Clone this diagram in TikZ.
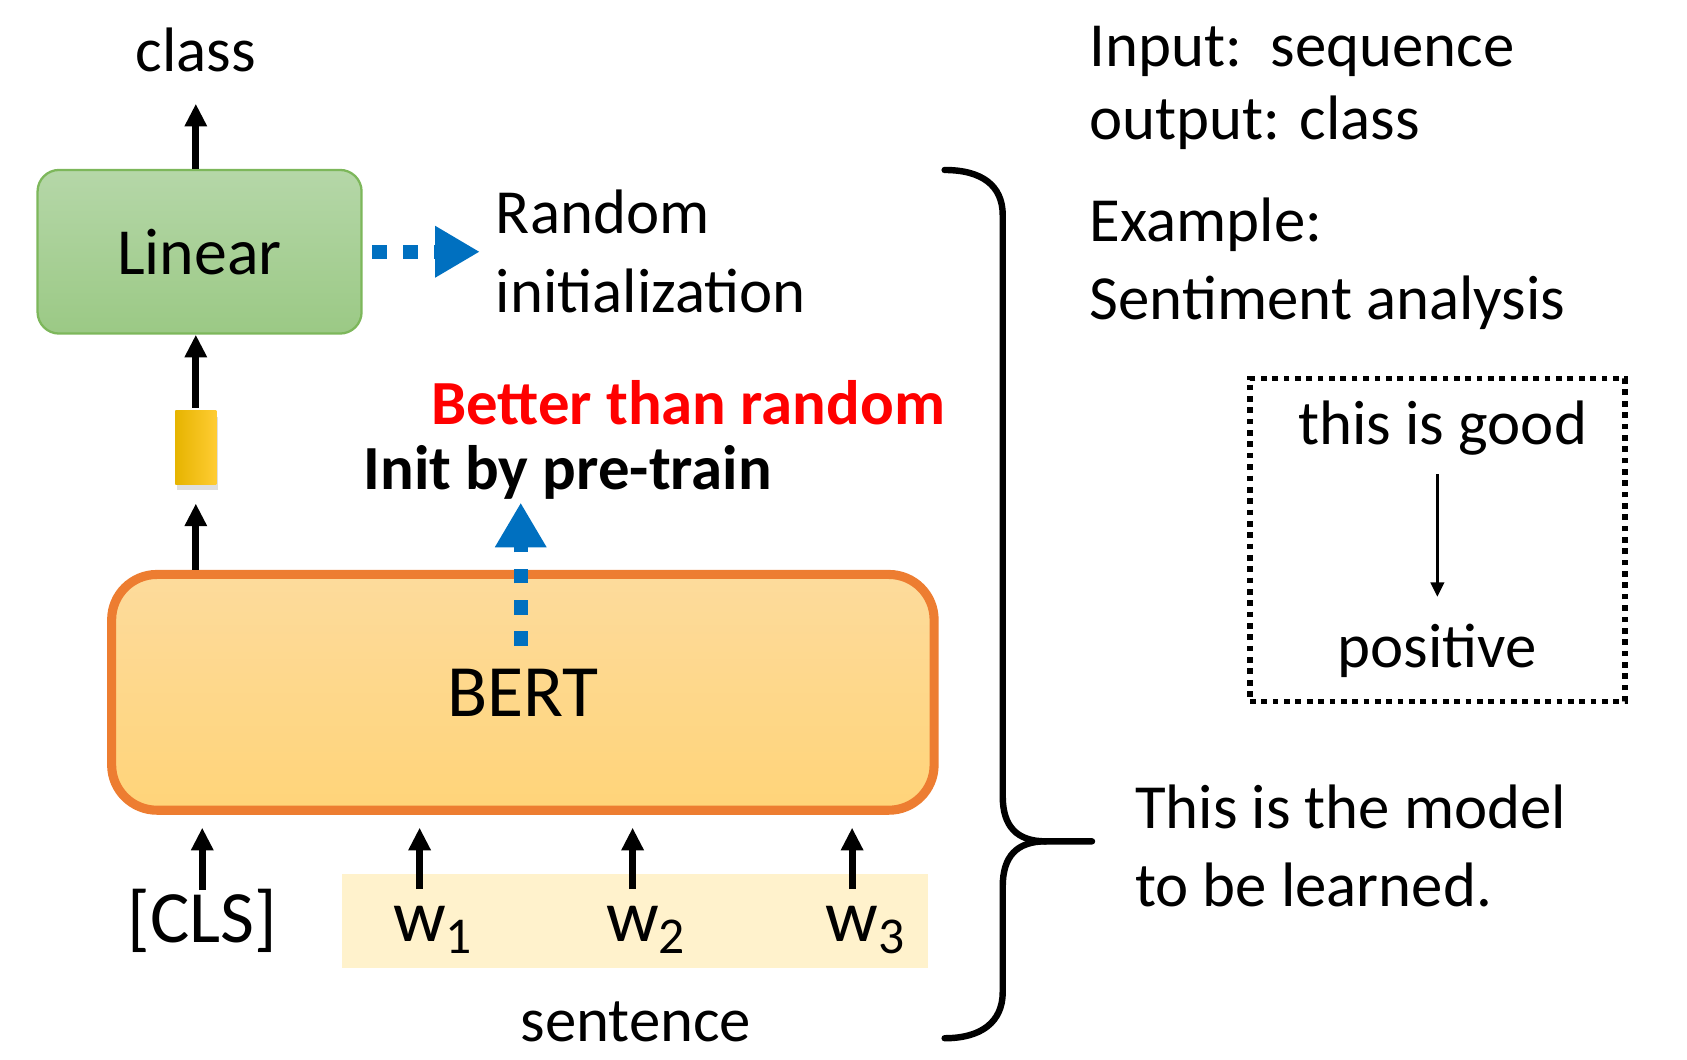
\documentclass[tikz,border=0pt]{standalone}
\usepackage{fontspec}
\setmainfont{Carlito}
\usepackage{xcolor}
\definecolor{ink}{HTML}{000000}
\definecolor{lintop}{HTML}{B5D7A8}
\definecolor{linbot}{HTML}{9BC985}
\definecolor{linedge}{HTML}{7DB75B}
\definecolor{berttop}{HTML}{FDDB9C}
\definecolor{bertbot}{HTML}{FFD479}
\definecolor{bertedge}{HTML}{ED7D31}
\definecolor{vecdark}{HTML}{E6B400}
\definecolor{veclight}{HTML}{FFCC33}
\definecolor{sentbg}{HTML}{FFF2CC}
\definecolor{initblue}{HTML}{0070C0}
\definecolor{better}{HTML}{FF0000}
\usepackage{tikz}
\usetikzlibrary{arrows.meta,positioning,shadows}
\tikzset{
  every picture/.style={font=\fontsize{16.6}{20.7}\selectfont, line width=1.7pt},
  lbl/.style={inner sep=0pt, align=left, anchor=base west},
  boldlbl/.style={lbl, font=\fontsize{16.6}{20.7}\selectfont\bfseries},
  tok/.style={font=\fontsize{19.5}{23}\selectfont, inner sep=0pt, text height=13pt, anchor=base},
  arrow/.style={-{Triangle[length=6pt, width=5.6pt]}, line width=1.8pt, draw=ink},
  thinarrow/.style={-{Triangle[length=3.8pt, width=3.6pt]}, line width=0.6pt, draw=ink},
  initarrow/.style={-{Triangle[length=11.8pt, width=12.8pt]}, draw=initblue, line width=3.8pt, dash pattern=on 3.8pt off 4.4pt},
}

\begin{document}
\begin{tikzpicture}[x=0.01cm, y=-0.01cm,
    linearbox/.style={draw=linedge, line width=0.6pt, rounded corners=0.2cm, top color=lintop, bottom color=linbot, minimum width=3.01cm, minimum height=1.52cm, inner sep=0pt, font=\fontsize{17.4}{21}\selectfont},
    bertbox/.style={draw=bertedge, line width=2.4pt, rounded corners=0.42cm, top color=berttop, bottom color=bertbot, minimum width=7.64cm, minimum height=2.19cm, inner sep=0pt, font=\fontsize{19.5}{23}\selectfont},
    vecbox/.style={left color=vecdark, right color=veclight, minimum width=0.38cm, minimum height=0.68cm, inner sep=0pt, drop shadow={opacity=0.25, shadow xshift=0.4pt, shadow yshift=-1.6pt}},
    exbox/.style={draw=ink, line width=1.5pt, dash pattern=on 1.5pt off 1.5pt, minimum width=3.48cm, minimum height=3cm, inner sep=0pt}]
  \useasboundingbox (0,0) rectangle (1568,985);
  % model column
  \node[fill=sentbg, minimum width=5.44cm, minimum height=0.88cm, inner sep=0pt] (sentstrip) at (590,856) {};
  \node[linearbox] (linear) at (185.5,234) {Linear};
  \node[vecbox] (vec) at (182,416) {};
  \node[bertbox] (bert) at (486,643.5) {BERT};
  \node[inner sep=0pt, anchor=base] (clsout) at (182,66) {class};
  \node[tok] (cls) at (188,876) {[CLS]};
  \node[tok] (w1) at (390,875) {w\rlap{\textsubscript{1}}};
  \node[tok] (w2) at (588,875) {w\rlap{\textsubscript{2}}};
  \node[tok] (w3) at (792,875) {w\rlap{\textsubscript{3}}};
  \node[inner sep=0pt, anchor=base] (sent) at (591,968) {sentence};
  \draw[arrow, shorten >=0.27cm] (linear.north -| vec) -- (clsout.south -| vec);
  \draw[arrow] (vec.north) -- (vec.north |- linear.south);
  \draw[arrow, shorten >=0.15cm] (bert.north -| vec) -- (vec.south);
  \foreach \t in {cls,w1,w2,w3}
    \draw[arrow, shorten >=0.12cm] (\t.north) -- (\t.north |- bert.south);
  % initialisation notes
  \node[lbl] (randinit) at (458,290) {Random\\initialization};
  \node[boldlbl, text=better] (betterlbl) at (398,395) {Better than random};
  \node[boldlbl] (initlbl) at (335,455) {Init by pre-train};
  \coordinate (bertmid) at (484,600);
  \draw[initarrow, shorten <=0.09cm, shorten >=0.12cm] (linear.east) -- (randinit.west |- linear.east);
  \draw[initarrow] (bertmid) -- (bertmid |- initlbl.south);
  % brace
  \draw[line cap=round] (878,158) .. controls (912,158) and (932,172) .. (932,200) -- (932,740) .. controls (932,768) and (945,782) .. (972,782) -- (1015,782);
  \draw[line cap=round] (972,782) .. controls (945,782) and (932,796) .. (932,824) -- (932,922) .. controls (932,950) and (912,965) .. (878,965);
  % task description
  \node[lbl] (iospec) at (1010,130) {Input:\ \ sequence\\[-1.3pt]output: class};
  \node[lbl] (example) at (1010,297) {Example:\\Sentiment analysis};
  \node[exbox] (exbox) at (1336,502) {};
  \node[inner sep=0pt, anchor=base] (good) at (1341,413) {this is good};
  \node[inner sep=0pt, anchor=base] (pos) at (1336,620) {positive};
  \draw[thinarrow, shorten <=0.15cm, shorten >=0.22cm] (pos.north |- good.south) -- (pos.north);
  \node[lbl] (model) at (1052,843) {This is the model\\to be learned.};
\end{tikzpicture}
\end{document}
